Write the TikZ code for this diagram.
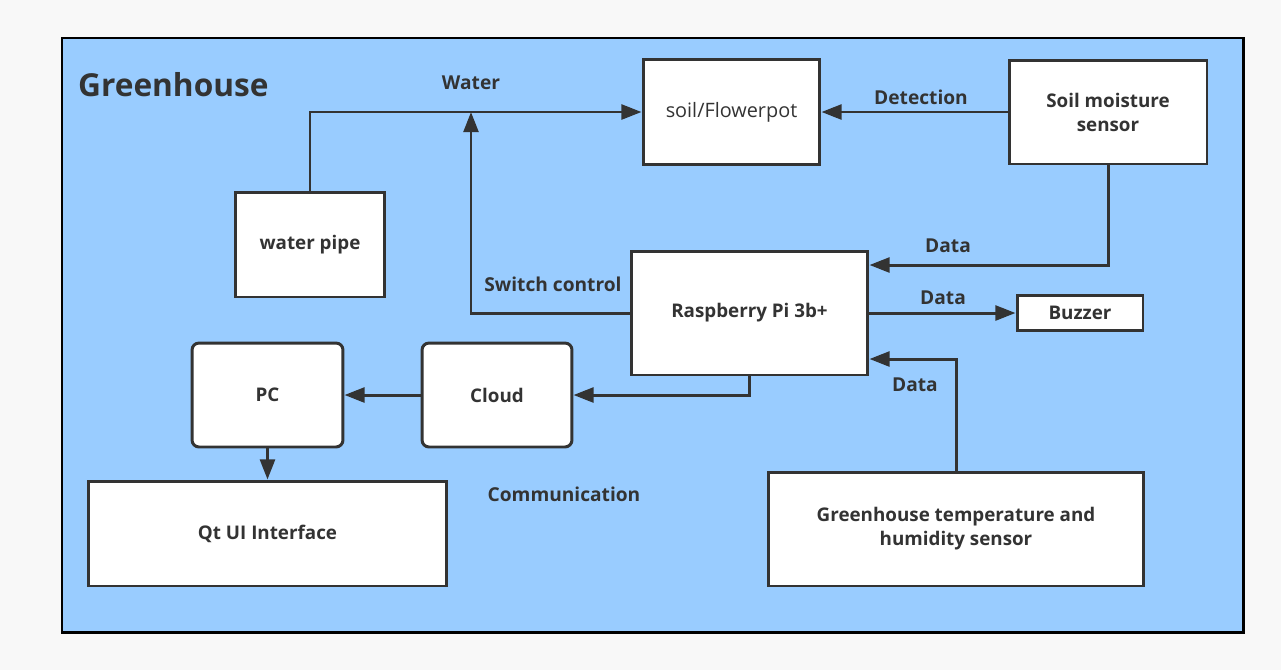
\documentclass[tikz,border=0pt]{standalone}
\usepackage{fontspec}
\setmainfont{Open Sans}
\usetikzlibrary{arrows.meta}
\definecolor{skyfill}{HTML}{99CCFF}
\definecolor{inkgray}{HTML}{333333}
\definecolor{pagegray}{HTML}{F8F8F8}

\begin{document}
\begin{tikzpicture}[x=0.02cm,y=-0.02cm,>={Triangle[length=11.5pt,width=8.5pt]},
	box/.style={draw=inkgray, line width=1.7pt, fill=white, text=inkgray, align=center, inner sep=0pt,
		font=\bfseries\fontsize{10.7}{13.6}\selectfont},
	round box/.style={box, rounded corners=4pt},
	wire/.style={draw=inkgray, line width=1.7pt},
	tag/.style={text=inkgray, font=\bfseries\fontsize{10.9}{13}\selectfont}]
	% page and frame
	\fill[pagegray] (0,0) rectangle (1281,670);
	\useasboundingbox (0,0) rectangle (1281,670);
	\draw[black, line width=1.7pt, fill=skyfill] (62,38) rectangle (1243,632);
	\node[tag, anchor=west, font=\bfseries\fontsize{18}{20}\selectfont] (title) at (72,85) {Greenhouse};
	
	% Nodes
	\node[box, minimum width=3.54cm, minimum height=2.1cm, font=\fontsize{11.3}{13.6}\selectfont] (pot) at (731.5,112) {soil/Flowerpot};
	\node[box, minimum width=3.96cm, minimum height=2.08cm] (moist) at (1108,112) {Soil moisture\\sensor};
	\node[box, minimum width=3cm, minimum height=2.1cm] (pipe) at (310,244.5) {water pipe};
	\node[box, minimum width=4.74cm, minimum height=2.48cm] (rpi) at (749.5,313) {Raspberry Pi 3b+};
	\node[box, minimum width=2.52cm, minimum height=0.7cm] (buzz) at (1080,313) {Buzzer};
	\node[round box, minimum width=3.02cm, minimum height=2.08cm] (pc) at (267.5,395) {PC};
	\node[round box, minimum width=3cm, minimum height=2.08cm] (cloud) at (497,395) {Cloud};
	\node[box, minimum width=7.18cm, minimum height=2.1cm] (qt) at (267.5,533.5) {Qt UI Interface};
	\node[box, minimum width=7.52cm, minimum height=2.28cm] (temp) at (956,529) {Greenhouse temperature and\\humidity sensor};
	\coordinate (valve) at (471,112);
	
	% Connectors
	\draw[wire,->] (pipe.north) |- (pot.west);
	\draw[wire,->] (rpi.west) -| (valve);
	\draw[wire,->] (moist.west) -- (pot.east);
	\draw[wire,->] (moist.south) |- (rpi.east |- 0,265);
	\draw[wire,->] (rpi.east) -- (buzz.west);
	\draw[wire,->] (temp.north) |- (rpi.east |- 0,359);
	\draw[wire,->] (rpi.south) |- (cloud.east);
	\draw[wire,->] (cloud.west) -- (pc.east);
	\draw[wire,->] (pc.south) -- (qt.north);
	
	% Labels
	\node[tag] (lwater) at (471,83) {Water};
	\node[tag] (lswitch) at (553,284) {Switch control};
	\node[tag] (ldetect) at (921,97) {Detection};
	\node[tag] (ldata1) at (948,246) {Data};
	\node[tag] (ldata2) at (943,298) {Data};
	\node[tag] (ldata3) at (915,385) {Data};
	\node[tag] (lcomm) at (564,494) {Communication};
\end{tikzpicture}
\end{document}
